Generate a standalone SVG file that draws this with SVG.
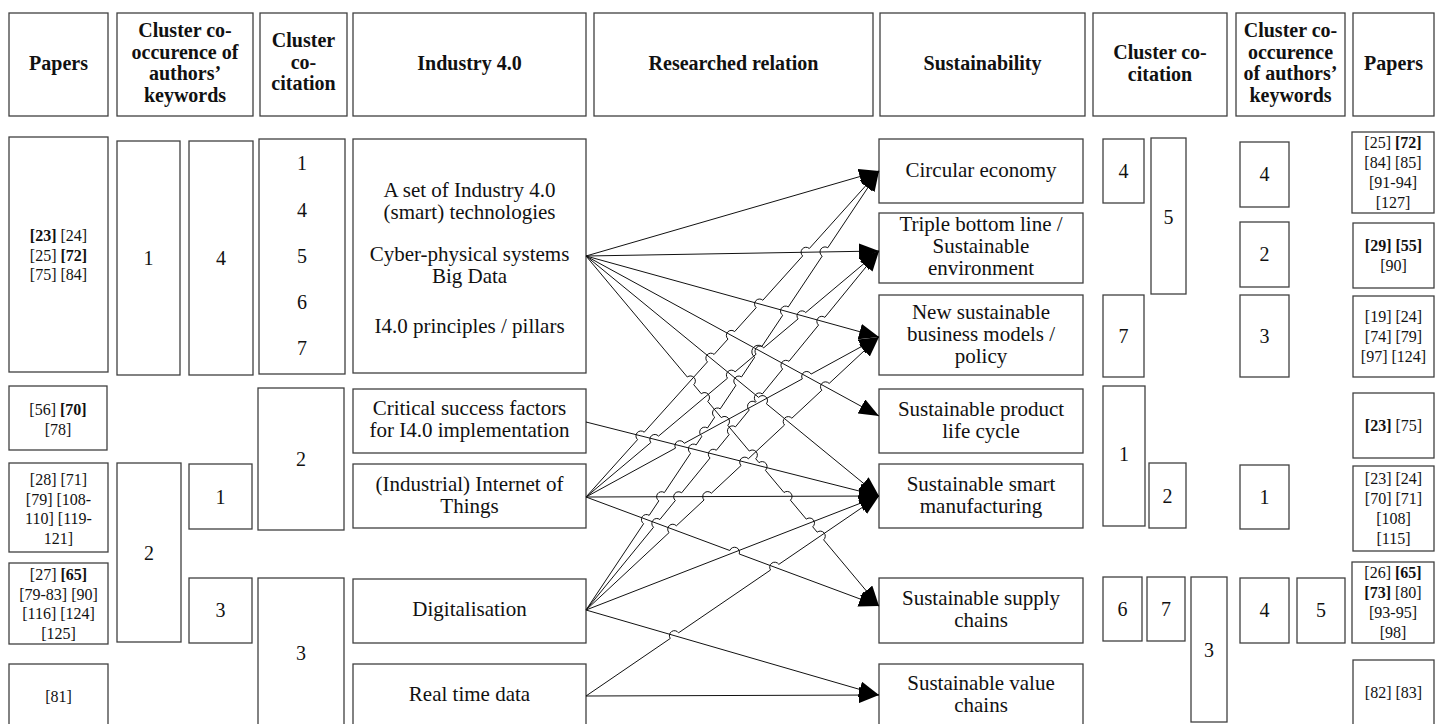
<svg xmlns="http://www.w3.org/2000/svg" width="1440" height="724" viewBox="0 0 1440 724">
<style>
.box{fill:#fff;stroke:#404040;stroke-width:1.3}
.t{font-family:"Liberation Serif","Times New Roman",serif;font-size:21px;text-anchor:middle;fill:#111}
.h{font-weight:bold;font-size:20px}
.n{font-size:20px}
.r{font-size:16px}
.b{font-weight:bold}
.ln{stroke:#111;stroke-width:1;fill:none;marker-end:url(#ah)}
</style>
<defs>
<marker id="ah" markerUnits="userSpaceOnUse" viewBox="0 0 20 16" refX="20" refY="8" markerWidth="20" markerHeight="16" orient="auto">
<path d="M0,0 L20,8 L0,16 z" fill="#000"/>
</marker>
</defs>
<rect width="1440" height="724" fill="#fff"/>

<!-- header -->
<g id="h-papers-l"><rect class="box" x="9" y="13" width="99" height="103"/><text class="t h" x="58.5" y="70">Papers</text></g>
<g id="h-cooc-l"><rect class="box" x="117" y="13" width="136" height="103"/><text class="t h"><tspan x="185" y="37">Cluster co-</tspan><tspan x="185" y="58.5">occurence of</tspan><tspan x="185" y="80">authors’</tspan><tspan x="185" y="101.5">keywords</tspan></text></g>
<g id="h-cocit-l"><rect class="box" x="260" y="13" width="87" height="103"/><text class="t h"><tspan x="303.5" y="47">Cluster</tspan><tspan x="303.5" y="68.5">co-</tspan><tspan x="303.5" y="90">citation</tspan></text></g>
<g id="h-i40"><rect class="box" x="353" y="13" width="233" height="103"/><text class="t h" x="469.5" y="70">Industry 4.0</text></g>
<g id="h-rel"><rect class="box" x="594" y="13" width="279" height="103"/><text class="t h" x="733.5" y="70">Researched relation</text></g>
<g id="h-sus"><rect class="box" x="880" y="13" width="205" height="103"/><text class="t h" x="982.5" y="70">Sustainability</text></g>
<g id="h-cocit-r"><rect class="box" x="1093" y="13" width="134" height="103"/><text class="t h"><tspan x="1160" y="59">Cluster co-</tspan><tspan x="1160" y="80.5">citation</tspan></text></g>
<g id="h-cooc-r"><rect class="box" x="1236" y="13" width="109" height="103"/><text class="t h"><tspan x="1290.5" y="37">Cluster co-</tspan><tspan x="1290.5" y="58.5">occurence</tspan><tspan x="1290.5" y="80">of authors’</tspan><tspan x="1290.5" y="101.5">keywords</tspan></text></g>
<g id="h-papers-r"><rect class="box" x="1353" y="13" width="81" height="103"/><text class="t h" x="1393.5" y="70">Papers</text></g>

<!-- left papers -->
<g id="pl1"><rect class="box" x="9" y="137" width="99" height="235"/><text class="t r"><tspan x="58.5" y="241"><tspan class="b">[23]</tspan> [24]</tspan><tspan x="58.5" y="260.5">[25] <tspan class="b">[72]</tspan></tspan><tspan x="58.5" y="280">[75] [84]</tspan></text></g>
<g id="pl2"><rect class="box" x="9" y="386" width="98" height="64"/><text class="t r"><tspan x="58" y="415">[56] <tspan class="b">[70]</tspan></tspan><tspan x="58" y="435">[78]</tspan></text></g>
<g id="pl3"><rect class="box" x="9" y="463" width="99" height="89"/><text class="t r"><tspan x="58.5" y="485">[28] [71]</tspan><tspan x="58.5" y="504.5">[79] [108-</tspan><tspan x="58.5" y="524">110] [119-</tspan><tspan x="58.5" y="543.5">121]</tspan></text></g>
<g id="pl4"><rect class="box" x="9" y="563" width="99" height="81"/><text class="t r"><tspan x="58.5" y="580">[27] <tspan class="b">[65]</tspan></tspan><tspan x="58.5" y="599.5">[79-83] [90]</tspan><tspan x="58.5" y="619">[116] [124]</tspan><tspan x="58.5" y="638.5">[125]</tspan></text></g>
<g id="pl5"><rect class="box" x="9" y="664" width="99" height="80"/><text class="t r" x="58.5" y="702">[81]</text></g>

<!-- left co-occurrence -->
<g id="ocl1"><rect class="box" x="117" y="141" width="63" height="234"/><text class="t n" x="148.5" y="265">1</text></g>
<g id="ocl2"><rect class="box" x="117" y="463" width="64" height="179"/><text class="t n" x="149" y="560">2</text></g>
<g id="ocl4"><rect class="box" x="189" y="141" width="64" height="234"/><text class="t n" x="221" y="265">4</text></g>
<g id="ocl1b"><rect class="box" x="189" y="464" width="63" height="65"/><text class="t n" x="220.5" y="504">1</text></g>
<g id="ocl3"><rect class="box" x="189" y="578" width="63" height="65"/><text class="t n" x="220.5" y="617">3</text></g>

<!-- left co-citation -->
<g id="ccl1"><rect class="box" x="259" y="139" width="86" height="235"/><text class="t n"><tspan x="302" y="170">1</tspan><tspan x="302" y="217">4</tspan><tspan x="302" y="263">5</tspan><tspan x="302" y="309">6</tspan><tspan x="302" y="355">7</tspan></text></g>
<g id="ccl2"><rect class="box" x="258" y="388" width="86" height="142"/><text class="t n" x="301" y="466">2</text></g>
<g id="ccl3"><rect class="box" x="258" y="578" width="86" height="166"/><text class="t n" x="301" y="660">3</text></g>

<!-- Industry 4.0 -->
<g id="i1"><rect class="box" x="353" y="139" width="233" height="234"/><text class="t"><tspan x="469.5" y="197">A set of Industry 4.0</tspan><tspan x="469.5" y="218.5">(smart) technologies</tspan><tspan x="469.5" y="261">Cyber-physical systems</tspan><tspan x="469.5" y="282.5">Big Data</tspan><tspan x="469.5" y="333">I4.0 principles / pillars</tspan></text></g>
<g id="i2"><rect class="box" x="353" y="389" width="233" height="64"/><text class="t"><tspan x="469.5" y="415">Critical success factors</tspan><tspan x="469.5" y="437">for I4.0 implementation</tspan></text></g>
<g id="i3"><rect class="box" x="353" y="464" width="233" height="64"/><text class="t"><tspan x="469.5" y="491">(Industrial) Internet of</tspan><tspan x="469.5" y="513">Things</tspan></text></g>
<g id="i4"><rect class="box" x="353" y="579" width="233" height="64"/><text class="t" x="469.5" y="616">Digitalisation</text></g>
<g id="i5"><rect class="box" x="353" y="664" width="233" height="80"/><text class="t" x="469.5" y="701">Real time data</text></g>

<!-- Sustainability -->
<g id="s1"><rect class="box" x="879" y="139" width="204" height="64"/><text class="t" x="981" y="177">Circular economy</text></g>
<g id="s2"><rect class="box" x="879" y="213" width="204" height="70"/><text class="t"><tspan x="981" y="231">Triple bottom line /</tspan><tspan x="981" y="253">Sustainable</tspan><tspan x="981" y="275">environment</tspan></text></g>
<g id="s3"><rect class="box" x="879" y="295" width="204" height="80"/><text class="t"><tspan x="981" y="319">New sustainable</tspan><tspan x="981" y="341">business models /</tspan><tspan x="981" y="363">policy</tspan></text></g>
<g id="s4"><rect class="box" x="879" y="389" width="204" height="64"/><text class="t"><tspan x="981" y="416">Sustainable product</tspan><tspan x="981" y="438">life cycle</tspan></text></g>
<g id="s5"><rect class="box" x="879" y="464" width="204" height="64"/><text class="t"><tspan x="981" y="491">Sustainable smart</tspan><tspan x="981" y="513">manufacturing</tspan></text></g>
<g id="s6"><rect class="box" x="879" y="578" width="204" height="65"/><text class="t"><tspan x="981" y="605">Sustainable supply</tspan><tspan x="981" y="627">chains</tspan></text></g>
<g id="s7"><rect class="box" x="879" y="664" width="204" height="80"/><text class="t"><tspan x="981" y="690">Sustainable value</tspan><tspan x="981" y="712">chains</tspan></text></g>

<!-- right co-citation -->
<g id="ccr4"><rect class="box" x="1103" y="139" width="41" height="64"/><text class="t n" x="1123.5" y="178">4</text></g>
<g id="ccr5"><rect class="box" x="1151" y="138" width="35" height="156"/><text class="t n" x="1168.5" y="224">5</text></g>
<g id="ccr7"><rect class="box" x="1103" y="295" width="41" height="82"/><text class="t n" x="1123.5" y="343">7</text></g>
<g id="ccr1"><rect class="box" x="1103" y="386" width="42" height="140"/><text class="t n" x="1124" y="461">1</text></g>
<g id="ccr2"><rect class="box" x="1149" y="463" width="37" height="65"/><text class="t n" x="1167.5" y="503">2</text></g>
<g id="ccr6"><rect class="box" x="1103" y="577" width="39" height="64"/><text class="t n" x="1122.5" y="616">6</text></g>
<g id="ccr7b"><rect class="box" x="1147" y="577" width="38" height="64"/><text class="t n" x="1166" y="616">7</text></g>
<g id="ccr3"><rect class="box" x="1191" y="577" width="36" height="145"/><text class="t n" x="1209" y="657">3</text></g>

<!-- right co-occurrence -->
<g id="ocr4"><rect class="box" x="1240" y="142" width="49" height="65"/><text class="t n" x="1264.5" y="181">4</text></g>
<g id="ocr2"><rect class="box" x="1240" y="222" width="49" height="65"/><text class="t n" x="1264.5" y="261">2</text></g>
<g id="ocr3"><rect class="box" x="1240" y="295" width="49" height="82"/><text class="t n" x="1264.5" y="343">3</text></g>
<g id="ocr1"><rect class="box" x="1240" y="465" width="49" height="64"/><text class="t n" x="1264.5" y="504">1</text></g>
<g id="ocr4b"><rect class="box" x="1240" y="578" width="49" height="65"/><text class="t n" x="1264.5" y="617">4</text></g>
<g id="ocr5"><rect class="box" x="1297" y="578" width="48" height="65"/><text class="t n" x="1321" y="617">5</text></g>

<!-- right papers -->
<g id="pr1"><rect class="box" x="1352" y="132" width="82" height="81"/><text class="t r"><tspan x="1393" y="148">[25] <tspan class="b">[72]</tspan></tspan><tspan x="1393" y="168">[84] [85]</tspan><tspan x="1393" y="188">[91-94]</tspan><tspan x="1393" y="208">[127]</tspan></text></g>
<g id="pr2"><rect class="box" x="1353" y="223" width="81" height="65"/><text class="t r"><tspan x="1393.5" y="251" class="b">[29] [55]</tspan><tspan x="1393.5" y="271">[90]</tspan></text></g>
<g id="pr3"><rect class="box" x="1353" y="296" width="81" height="81"/><text class="t r"><tspan x="1393.5" y="322">[19] [24]</tspan><tspan x="1393.5" y="342">[74] [79]</tspan><tspan x="1393.5" y="362">[97] [124]</tspan></text></g>
<g id="pr4"><rect class="box" x="1353" y="393" width="81" height="65"/><text class="t r" x="1393.5" y="431"><tspan class="b">[23]</tspan> [75]</text></g>
<g id="pr5"><rect class="box" x="1353" y="466" width="81" height="85"/><text class="t r"><tspan x="1393.5" y="484">[23] [24]</tspan><tspan x="1393.5" y="504">[70] [71]</tspan><tspan x="1393.5" y="524">[108]</tspan><tspan x="1393.5" y="544">[115]</tspan></text></g>
<g id="pr6"><rect class="box" x="1352" y="562" width="82" height="81"/><text class="t r"><tspan x="1393" y="578">[26] <tspan class="b">[65]</tspan></tspan><tspan x="1393" y="598"><tspan class="b">[73]</tspan> [80]</tspan><tspan x="1393" y="618">[93-95]</tspan><tspan x="1393" y="638">[98]</tspan></text></g>
<g id="pr7"><rect class="box" x="1353" y="660" width="81" height="84"/><text class="t r" x="1393.5" y="698">[82] [83]</text></g>

<!-- connectors (with line jumps) -->
<g id="connectors">
<path class="ln" d="M586,256 L879,171"/>
<path class="ln" d="M586,256 L879,251"/>
<path class="ln" d="M586,256 L879,337"/>
<path class="ln" d="M586,256 L879,416"/>
<path class="ln" d="M586,256 L758.63,397.40 A5,5 0 0 1 766.37,403.74 L879,496"/>
<path class="ln" d="M586,256 L687.29,377.00 A5,5 0 0 1 693.71,384.66 L701.29,393.72 A5,5 0 0 1 707.71,401.39 L721.29,417.61 A5,5 0 0 1 727.71,425.28 L749.29,451.06 A5,5 0 0 1 755.71,458.72 L758.99,462.65 A5,5 0 0 1 765.41,470.31 L783.99,492.51 A5,5 0 0 1 790.41,500.17 L806.29,519.15 A5,5 0 0 1 812.71,526.82 L817.19,532.17 A5,5 0 0 1 823.61,539.83 L879,606"/>
<path class="ln" d="M586,422 L879,496"/>
<path class="ln" d="M586,497 L879,496"/>
<path class="ln" d="M586,497 L729.81,550.50 A5,5 0 0 1 739.19,553.98 L879,606"/>
<path class="ln" d="M586,497 L637.56,439.64 A5,5 0 0 1 644.24,432.20 L707.46,361.86 A5,5 0 0 1 714.14,354.42 L727.96,339.05 A5,5 0 0 1 734.64,331.61 L756.16,307.68 A5,5 0 0 1 762.84,300.24 L802.66,255.94 A5,5 0 0 1 809.34,248.50 L879,171"/>
<path class="ln" d="M586,497 L650.87,442.53 A5,5 0 0 1 658.53,436.11 L727.47,378.22 A5,5 0 0 1 735.13,371.80 L756.07,354.21 A5,5 0 0 1 763.73,347.79 L798.07,318.94 A5,5 0 0 1 805.73,312.52 L879,251"/>
<path class="ln" d="M586,497 L675.51,448.12 A5,5 0 0 1 684.29,443.32 L802.31,378.88 A5,5 0 0 1 811.09,374.08 L879,337"/>
<path class="ln" d="M586,610 L643.62,523.66 A5,5 0 0 1 649.18,515.34 L658.82,500.89 A5,5 0 0 1 664.38,492.57 L690.62,453.24 A5,5 0 0 1 696.18,444.92 L701.92,436.31 A5,5 0 0 1 707.48,427.99 L714.72,417.13 A5,5 0 0 1 720.28,408.81 L736.02,385.22 A5,5 0 0 1 741.58,376.90 L754.72,357.20 A6.53,6.53 0 0 1 761.98,346.34 L782.72,315.25 A5,5 0 0 1 788.28,306.93 L822.22,256.07 A5,5 0 0 1 827.78,247.75 L879,171"/>
<path class="ln" d="M586,610 L653.54,527.24 A5,5 0 0 1 659.86,519.50 L675.34,500.53 A5,5 0 0 1 681.66,492.79 L710.04,458.02 A5,5 0 0 1 716.36,450.28 L729.14,434.61 A5,5 0 0 1 735.46,426.87 L749.24,409.99 A5,5 0 0 1 755.56,402.25 L756.04,401.66 A5,5 0 0 1 762.36,393.92 L782.64,369.06 A5,5 0 0 1 788.96,361.32 L818.54,325.08 A5,5 0 0 1 824.86,317.34 L879,251"/>
<path class="ln" d="M586,610 L669.04,532.63 A5,5 0 0 1 676.36,525.81 L704.04,500.02 A5,5 0 0 1 711.36,493.20 L741.04,465.54 A5,5 0 0 1 748.36,458.72 L784.54,425.01 A5,5 0 0 1 791.86,418.19 L821.84,390.26 A5,5 0 0 1 829.16,383.44 L879,337"/>
<path class="ln" d="M586,610 L879,496"/>
<path class="ln" d="M586,610 L879,695"/>
<path class="ln" d="M586,696 L670.27,638.48 A5,5 0 0 1 678.53,632.84 L770.57,570.01 A5,5 0 0 1 778.83,564.37 L879,496"/>
<path class="ln" d="M586,696 L879,695"/>
</g>
</svg>
